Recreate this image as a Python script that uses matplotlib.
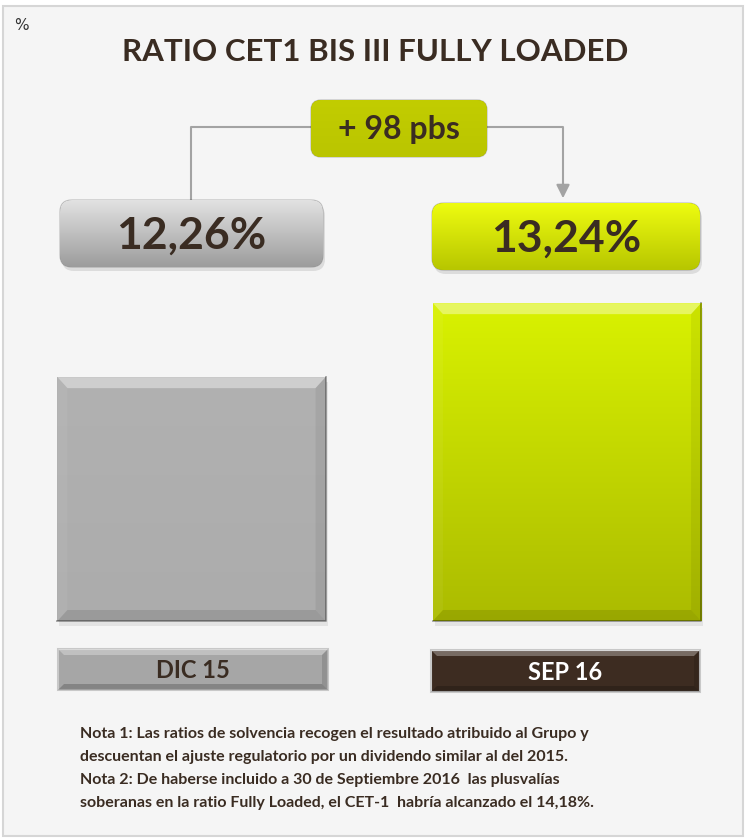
import numpy as np
import matplotlib
matplotlib.use('Agg')
import matplotlib.pyplot as plt
from matplotlib.patches import FancyBboxPatch, Rectangle, Polygon
from matplotlib import transforms
from matplotlib.colors import LinearSegmentedColormap

# ---------------- data ----------------
categories = ['DIC 15', 'SEP 16']
values = [12.26, 13.24]
title = 'RATIO CET1 BIS III FULLY LOADED'
unit_label = '%'
notes = [
    "Nota 1: Las ratios de solvencia recogen el resultado atribuido al Grupo y",
    "descuentan el ajuste regulatorio por un dividendo similar al del 2015.",
    "Nota 2: De haberse incluido a 30 de Septiembre 2016  las plusvalías",
    "soberanas en la ratio Fully Loaded, el CET-1  habría alcanzado el 14,18%.",
]

# ---------------- style ----------------
W, H = 747, 839
FONT = ['Lato', 'DejaVu Sans']
plt.rcParams['font.family'] = FONT
DARK = '#3a2c22'
GREEN = '#c2cd00'
GRAY = '#afafaf'
LINE = '#a3a3a3'

fig = plt.figure(figsize=(W / 100, H / 100), dpi=100)
fig.patch.set_facecolor('white')

# background panel
bg = Rectangle((3 / W, 1 - 836 / H), 740 / W, 830 / H, transform=fig.transFigure,
               facecolor='#f5f5f5', edgecolor='#d6d6d6', lw=1.5, zorder=-5)
fig.add_artist(bg)

# ---------------- bar axes ----------------
ax = fig.add_axes([0, 0, 1, 1], zorder=1)
ax.patch.set_visible(False)
sx = 375.5     # px per category unit
sy = 75.5      # px per percentage point
base = 9.03
ax.set_xlim(-191.5 / sx, (W - 191.5) / sx)
ax.set_ylim(base - (H - 621) / sy, base + 621 / sy)
ax.axis('off')

x = np.arange(len(categories))
width = 0.714
bars = ax.bar(x, [v - base for v in values], bottom=base, width=width,
              color=[GRAY, GREEN], edgecolor='none', zorder=2)

grad_gray = LinearSegmentedColormap.from_list('g', ['#acacac', '#b1b1b1'])
grad_green = LinearSegmentedColormap.from_list('gr', ['#abbb00', '#d9f200'])
for i, (b, v) in enumerate(zip(bars, values)):
    x0, x1 = x[i] - width / 2, x[i] + width / 2
    # shadow
    sh = Rectangle((x0 + 2 / sx, base - 5 / sy), width, v - base, facecolor='#000000',
                   alpha=0.07, edgecolor='none', zorder=1)
    ax.add_patch(sh)
    cmap = grad_gray if i == 0 else grad_green
    g = np.linspace(0, 1, 256).reshape(-1, 1)
    im = ax.imshow(g, extent=(x0, x1, base, v), origin='lower', cmap=cmap,
                   aspect='auto', zorder=3)
    im.set_clip_path(b)
    bx, by = 10 / sx, 11 / sy
    top = Polygon([(x0, v), (x1, v), (x1 - bx, v - by), (x0 + bx, v - by)],
                  facecolor='white', alpha=0.38, edgecolor='none', zorder=4)
    left = Polygon([(x0, v), (x0 + bx, v - by), (x0 + bx, base + by), (x0, base)],
                   facecolor='white', alpha=0.05, edgecolor='none', zorder=4)
    right = Polygon([(x1, v), (x1 - bx, v - by), (x1 - bx, base + by), (x1, base)],
                    facecolor='black', alpha=0.06, edgecolor='none', zorder=4)
    bot = Polygon([(x0, base), (x1, base), (x1 - bx, base + by), (x0 + bx, base + by)],
                  facecolor='black', alpha=0.10, edgecolor='none', zorder=4)
    for p in (top, left, right, bot):
        ax.add_patch(p)
    ax.plot([x1, x1, x0], [v, base, base], color='black', alpha=0.35, lw=1.3, zorder=5)

# ---------------- decoration axes (pixel coords) ----------------
deco = fig.add_axes([0, 0, 1, 1], zorder=2)
deco.patch.set_visible(False)
deco.set_xlim(0, W)
deco.set_ylim(H, 0)
deco.axis('off')


def gradient_box(x0, y0, w, h, c_top, c_bot, rs=10, zorder=3, shadow=True):
    if shadow:
        sh = FancyBboxPatch((x0 + 2, y0 + 4), w, h, boxstyle=f'round,pad=0,rounding_size={rs}',
                            facecolor='black', alpha=0.10, edgecolor='none', zorder=zorder - 1)
        deco.add_patch(sh)
    box = FancyBboxPatch((x0, y0), w, h, boxstyle=f'round,pad=0,rounding_size={rs}',
                         facecolor=c_bot, edgecolor='#00000030', lw=1, zorder=zorder)
    deco.add_patch(box)
    cmap = LinearSegmentedColormap.from_list('b', [c_top, c_bot])
    g = np.linspace(0, 1, 256).reshape(-1, 1)
    im = deco.imshow(g, extent=(x0, x0 + w, y0 + h, y0), origin='upper', cmap=cmap,
                     aspect='auto', zorder=zorder + 0.1)
    im.set_clip_path(box)
    deco.set_xlim(0, W)
    deco.set_ylim(H, 0)
    return box


def fmt(v):
    return f'{v:.2f}%'.replace('.', ',')


# title and unit
deco.text(14, 26, unit_label, fontsize=11, color='#333333', ha='left', va='center',
          family=['DejaVu Sans'])
deco.text(375, 52, title, fontsize=22.5, fontweight='bold', color=DARK,
          ha='center', va='center')

# value callouts
callouts = [(60, 200, 263, 67, '#e2e2e2', '#9c9c9c'),
            (432, 203, 268, 67, '#eefc10', '#b7c600')]
for (cx, cy, cw, ch, ct, cb), v in zip(callouts, values):
    gradient_box(cx, cy, cw, ch, ct, cb, rs=12)
    deco.text(cx + cw / 2, cy + ch / 2 + 2, fmt(v), fontsize=32, fontweight='bold',
              color=DARK, ha='center', va='center', zorder=6)

# delta box
delta = round((values[1] - values[0]) * 100)
gradient_box(311, 100, 176, 57, '#c2cd00', '#bac500', rs=10, shadow=False)
deco.text(399, 130, f'+ {delta} pbs', fontsize=23, fontweight='bold', color=DARK,
          ha='center', va='center', zorder=6)

# connector
deco.plot([191, 191, 311], [200, 127, 127], color=LINE, lw=1.5, zorder=2)
deco.plot([487, 563, 563], [127, 127, 185], color=LINE, lw=1.5, zorder=2)
deco.annotate('', xy=(563, 201), xytext=(563, 180),
              arrowprops=dict(arrowstyle='-|>', color=LINE, lw=1.5, mutation_scale=20),
              zorder=2)

# category boxes
cat_boxes = [(58, 649, 270, 41, '#a6a6a6', DARK),
             (431, 650, 269, 42, '#3d2c21', 'white')]
for (bx0, by0, bw, bh, fc, tc), lab in zip(cat_boxes, categories):
    deco.add_patch(Rectangle((bx0, by0), bw, bh, facecolor=fc, edgecolor='#c8c8c8',
                             lw=1.5, zorder=3))
    b = 6
    deco.add_patch(Polygon([(bx0, by0), (bx0 + bw, by0), (bx0 + bw - b, by0 + b), (bx0 + b, by0 + b)],
                           facecolor='white', alpha=0.3, edgecolor='none', zorder=4))
    deco.add_patch(Polygon([(bx0, by0 + bh), (bx0 + bw, by0 + bh), (bx0 + bw - b, by0 + bh - b),
                            (bx0 + b, by0 + bh - b)],
                           facecolor='black', alpha=0.2, edgecolor='none', zorder=4))
    deco.add_patch(Polygon([(bx0 + bw, by0), (bx0 + bw, by0 + bh), (bx0 + bw - b, by0 + bh - b),
                            (bx0 + bw - b, by0 + b)],
                           facecolor='black', alpha=0.12, edgecolor='none', zorder=4))
    deco.text(bx0 + bw / 2, by0 + bh / 2 + 1, lab, fontsize=17, fontweight='bold',
              color=tc, ha='center', va='center', zorder=6)

# notes
for i, line in enumerate(notes):
    deco.text(80, 734 + i * 23, line, fontsize=11.5, fontweight='bold', color=DARK,
              ha='left', va='center', zorder=6)

fig.savefig('out.png', dpi=100, facecolor=fig.get_facecolor())
